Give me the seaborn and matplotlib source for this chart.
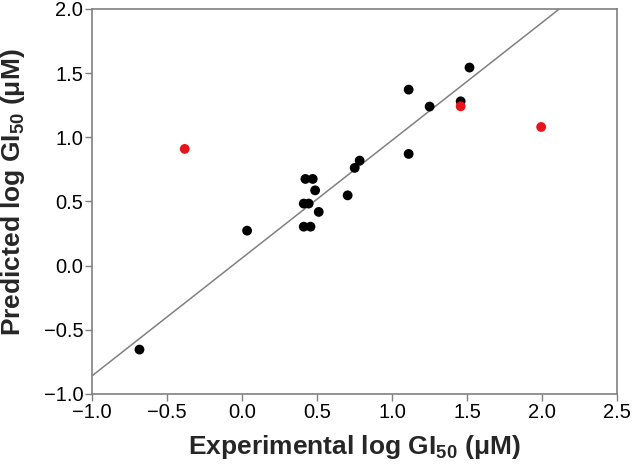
import pandas as pd
import matplotlib
matplotlib.use("Agg")
import matplotlib.pyplot as plt
import seaborn as sns

# Experimental vs predicted log GI50 values
exp_train = [-0.685, 0.033, 0.411, 0.456, 0.411, 0.444, 0.511, 0.487, 0.422, 0.471,
             0.704, 0.751, 0.784, 1.111, 1.111, 1.251, 1.458, 1.517]
pred_train = [-0.655, 0.272, 0.303, 0.303, 0.483, 0.483, 0.418, 0.586, 0.675, 0.675,
              0.547, 0.761, 0.818, 0.870, 1.371, 1.239, 1.280, 1.543]
exp_out = [-0.383, 1.458, 1.995]
pred_out = [0.909, 1.241, 1.080]

# fitted line
slope = 0.917
intercept = 0.059

x_ticks = [-1.0, -0.5, 0.0, 0.5, 1.0, 1.5, 2.0, 2.5]
y_ticks = [-1.0, -0.5, 0.0, 0.5, 1.0, 1.5, 2.0]

df = pd.DataFrame({
    "exp": exp_train + exp_out,
    "pred": pred_train + pred_out,
    "group": ["train"] * len(exp_train) + ["outlier"] * len(exp_out),
})

sns.set_style("white")
plt.rcParams['font.family'] = ['Liberation Sans', 'DejaVu Sans']
plt.rcParams['mathtext.fontset'] = 'custom'
plt.rcParams['mathtext.rm'] = 'Liberation Sans'
plt.rcParams['mathtext.bf'] = 'Liberation Sans:bold'

fig = plt.figure(figsize=(6.32, 4.70), dpi=100)
ax = fig.add_axes([0.146, 0.162, 0.830, 0.819])

ax.axline((0, intercept), slope=slope, color="#808080", lw=1.1, zorder=1)

sns.scatterplot(data=df, x="exp", y="pred", hue="group",
                palette={"train": "black", "outlier": "#e8141b"},
                s=50, edgecolor="none", legend=False, ax=ax, zorder=2)

fmt = matplotlib.ticker.FuncFormatter(lambda v, p: f"{v:.1f}".replace("-", "\u2212"))
ax.set_xlim(-1.0, 2.5)
ax.set_ylim(-1.0, 2.0)
ax.set_xticks(x_ticks)
ax.set_yticks(y_ticks)
ax.xaxis.set_major_formatter(fmt)
ax.yaxis.set_major_formatter(fmt)
ax.tick_params(axis='both', direction='out', length=5, width=1, color="#808080",
               labelsize=14.5, labelcolor="black", pad=1.5)
ax.tick_params(axis='x', bottom=True)
ax.tick_params(axis='y', left=True)
for sp in ax.spines.values():
    sp.set_color("#808080")
    sp.set_linewidth(1.2)

ax.set_xlabel(r"Experimental log GI$_{\mathbf{50}}$ ($\mathbf{\mu}$M)", fontsize=19,
              fontweight="bold", labelpad=8)
ax.set_ylabel(r"Predicted log GI$_{\mathbf{50}}$ ($\mathbf{\mu}$M)", fontsize=19,
              fontweight="bold")
ax.yaxis.set_label_coords(-0.124, 0.525)

fig.savefig("out.png", dpi=100)
